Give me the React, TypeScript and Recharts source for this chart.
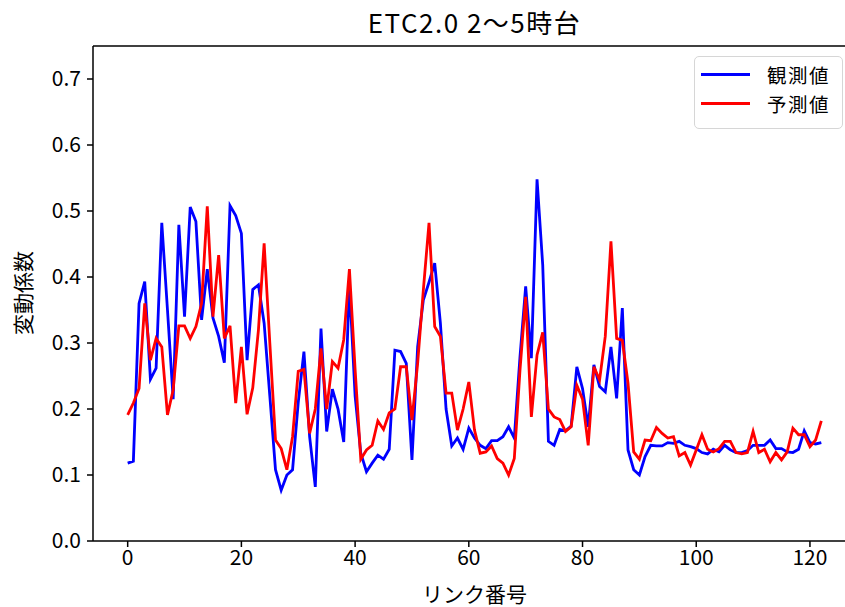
import React from "react";
import { LineChart, Line, XAxis, YAxis, ReferenceLine } from "recharts";

const observed: number[] = [
  0.118, 0.121, 0.36, 0.393, 0.245, 0.262, 0.482, 0.35, 0.215, 0.479,
  0.34, 0.506, 0.484, 0.335, 0.412, 0.338, 0.31, 0.27, 0.508, 0.493,
  0.466, 0.274, 0.381, 0.388, 0.33, 0.22, 0.108, 0.077, 0.1, 0.108,
  0.21, 0.287, 0.158, 0.082, 0.322, 0.166, 0.23, 0.2, 0.15, 0.39,
  0.22, 0.133, 0.105, 0.118, 0.13, 0.124, 0.139, 0.289, 0.287, 0.269,
  0.123, 0.294, 0.365, 0.392, 0.421, 0.33, 0.2, 0.144, 0.156, 0.139,
  0.171, 0.156, 0.145, 0.14, 0.152, 0.152, 0.158, 0.173, 0.156, 0.279,
  0.386, 0.277, 0.548, 0.418, 0.151, 0.145, 0.169, 0.167, 0.174, 0.264,
  0.231, 0.173, 0.267, 0.234, 0.226, 0.294, 0.216, 0.353, 0.138, 0.108,
  0.1, 0.128, 0.145, 0.144, 0.144, 0.149, 0.148, 0.151, 0.145, 0.143,
  0.14, 0.134, 0.132, 0.139, 0.135, 0.145, 0.138, 0.134, 0.134, 0.137,
  0.145, 0.145, 0.145, 0.153, 0.14, 0.14, 0.135, 0.134, 0.139, 0.167,
  0.149, 0.147, 0.149,
];

const predicted: number[] = [
  0.191, 0.209, 0.231, 0.36, 0.274, 0.307, 0.294, 0.191, 0.229, 0.326,
  0.326, 0.307, 0.325, 0.36, 0.507, 0.34, 0.433, 0.307, 0.326, 0.209,
  0.294, 0.192, 0.232, 0.32, 0.451, 0.3, 0.153, 0.14, 0.108, 0.158,
  0.257, 0.26, 0.163, 0.2, 0.292, 0.2, 0.272, 0.262, 0.305, 0.412,
  0.26, 0.124, 0.138, 0.145, 0.182, 0.169, 0.194, 0.2, 0.264, 0.264,
  0.183, 0.269, 0.38, 0.482, 0.325, 0.31, 0.224, 0.224, 0.168, 0.2,
  0.241, 0.168, 0.133, 0.135, 0.144, 0.125, 0.118, 0.1, 0.125, 0.259,
  0.37, 0.188, 0.282, 0.316, 0.2, 0.188, 0.184, 0.166, 0.173, 0.236,
  0.215, 0.145, 0.264, 0.244, 0.31, 0.454, 0.307, 0.304, 0.239, 0.135,
  0.124, 0.153, 0.152, 0.172, 0.163, 0.156, 0.158, 0.129, 0.134, 0.115,
  0.138, 0.161, 0.139, 0.135, 0.14, 0.151, 0.151, 0.134, 0.132, 0.134,
  0.166, 0.134, 0.139, 0.12, 0.134, 0.123, 0.135, 0.171, 0.161, 0.161,
  0.143, 0.153, 0.182,
];

const linkIds: number[] = observed.map((_, i) => i);
const xTicks: number[] = [0, 20, 40, 60, 80, 100, 120];
const yTicks: number[] = [0, 0.1, 0.2, 0.3, 0.4, 0.5, 0.6, 0.7];

const title = "ETC2.0 2～5時台";
const xLabel = "リンク番号";
const yLabel = "変動係数";
const seriesNames = ["観測値", "予測値"];

const data = linkIds.map((id, i) => ({ x: id, obs: observed[i], pred: predicted[i] }));

const FONT = '"Noto Sans CJK JP", "Noto Sans", sans-serif';

export default function App() {
  const tickStyle = { fill: "#000", fontSize: 21, fontFamily: FONT };
  return (
    <div style={{ position: "absolute", left: 0, top: 0, width: 845, height: 607, overflow: "hidden", background: "#fff" }}>
      <LineChart
        width={860}
        height={607}
        data={data}
        margin={{ top: 46, right: 4, bottom: 0, left: 0 }}
      >
        <XAxis
          dataKey="x"
          type="number"
          domain={[-6.1, 128.1]}
          ticks={xTicks}
          allowDataOverflow
          height={66}
          tickSize={6}
          tickMargin={3}
          stroke="#000"
          strokeWidth={1.5}
          tick={tickStyle}
          tickLine={{ stroke: "#000", strokeWidth: 1.5 }}
        />
        <YAxis
          type="number"
          domain={[0, 0.75]}
          ticks={yTicks}
          allowDataOverflow
          width={93}
          tickSize={6}
          tickMargin={6}
          stroke="#000"
          strokeWidth={1.5}
          tick={tickStyle}
          tickLine={{ stroke: "#000", strokeWidth: 1.5 }}
          tickFormatter={(v: number) => v.toFixed(1)}
        />
        <ReferenceLine y={0.75} stroke="#000" strokeWidth={1.5} />
        <ReferenceLine x={128.1} stroke="#000" strokeWidth={1.5} />
        <Line
          dataKey="obs"
          type="linear"
          stroke="#0000ff"
          strokeWidth={2.8}
          dot={false}
          isAnimationActive={false}
        />
        <Line
          dataKey="pred"
          type="linear"
          stroke="#ff0000"
          strokeWidth={2.8}
          dot={false}
          isAnimationActive={false}
        />
      </LineChart>
      <div style={{ position: "absolute", left: 0, width: 949, top: 4, textAlign: "center", fontFamily: FONT, fontSize: 26, letterSpacing: 1.5, color: "#000", lineHeight: "36px" }}>
        {title}
      </div>
      <div style={{ position: "absolute", left: 0, width: 949, top: 578, textAlign: "center", fontFamily: FONT, fontSize: 21, color: "#000", lineHeight: "30px" }}>
        {xLabel}
      </div>
      <div style={{ position: "absolute", left: 22, top: 293, transform: "translate(-50%, -50%) rotate(-90deg)", fontFamily: FONT, fontSize: 21, color: "#000", whiteSpace: "nowrap", lineHeight: "26px" }}>
        {yLabel}
      </div>
      <div style={{ position: "absolute", left: 694, top: 56, width: 149, height: 73, border: "1.5px solid #d6d6d6", borderRadius: 5, background: "rgba(255,255,255,0.8)", boxSizing: "border-box", fontFamily: FONT, fontSize: 19.5, color: "#000" }}>
        {[{ c: "#0000ff", t: seriesNames[0] }, { c: "#ff0000", t: seriesNames[1] }].map((r, k) => (
          <div key={k} style={{ position: "absolute", left: 6, top: 3 + k * 29, height: 29, display: "flex", alignItems: "center" }}>
            <div style={{ width: 49, height: 3, background: r.c }} />
            <span style={{ marginLeft: 17, lineHeight: "29px", letterSpacing: 1.5 }}>{r.t}</span>
          </div>
        ))}
      </div>
    </div>
  );
}
